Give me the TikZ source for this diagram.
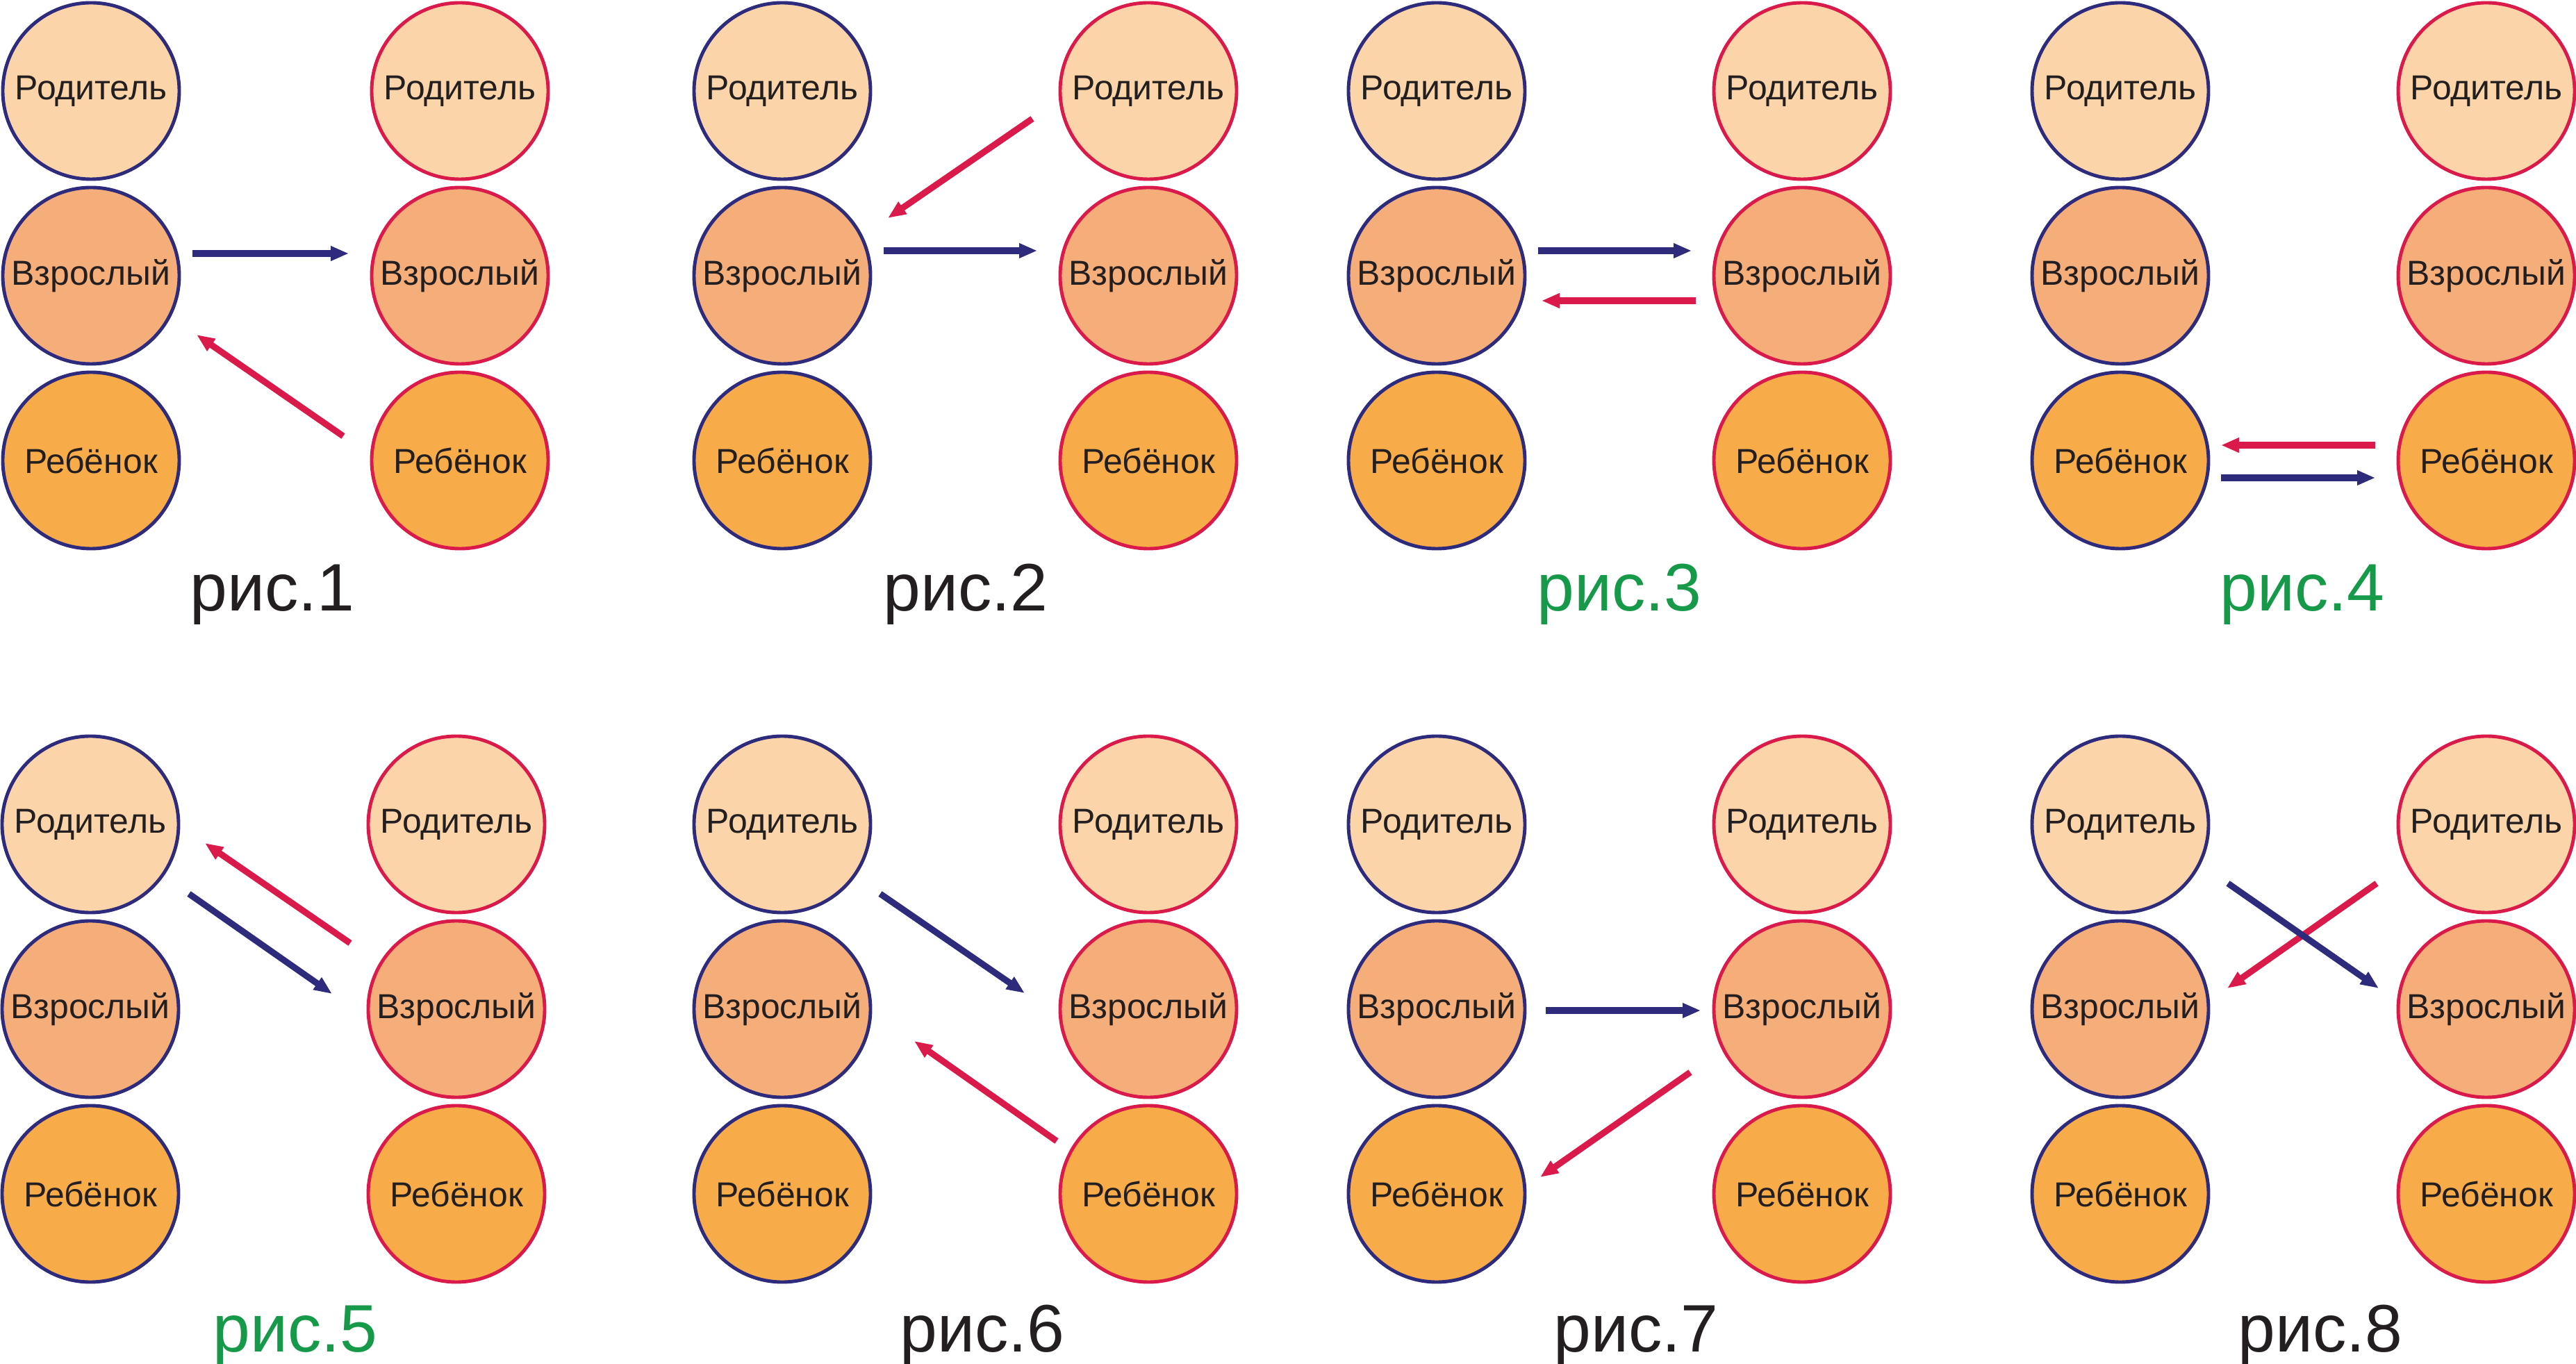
\documentclass[tikz,border=0pt]{standalone}
\usepackage{fontspec}
\setmainfont{Liberation Sans}
\usepackage{tikz}
\usetikzlibrary{arrows.meta}

\definecolor{ego blue}{HTML}{2E2B7D}
\definecolor{ego red}{HTML}{DA1A4B}
\definecolor{par fill}{HTML}{FBD5A9}
\definecolor{adl fill}{HTML}{F5AD79}
\definecolor{chl fill}{HTML}{F7AB49}
\definecolor{fig green}{HTML}{17994A}
\definecolor{ink}{HTML}{231F20}

\tikzset{
  egostate/.style={circle,minimum size=2.54cm,inner sep=0pt,outer sep=0pt,
    line width=1.4pt,text=ink,font=\fontsize{14.2}{16}\selectfont},
  lstate/.style={egostate,draw=ego blue},
  rstate/.style={egostate,draw=ego red},
  figlabel/.style={anchor=base,inner sep=0pt,text=ink,font=\fontsize{27.5}{30}\selectfont},
  barr/.style={draw=ego blue,line width=2.6pt,-{Triangle[length=0.26cm,width=0.2cm]}},
  rarr/.style={draw=ego red,line width=2.6pt,-{Triangle[length=0.26cm,width=0.2cm]}}
}

\begin{document}
\begin{tikzpicture}
  \useasboundingbox (0,0) rectangle (37.08,-19.64);

  % three ego states per column, two columns per figure
  \foreach \p/\lx/\rx/\y in {1/1.31/6.62/0,2/11.26/16.53/0,3/20.68/25.94/0,4/30.52/35.79/0,
                             5/1.30/6.57/-10.56,6/11.26/16.53/-10.56,7/20.68/25.94/-10.56,8/30.52/35.79/-10.56}
  {
    \node [lstate,fill=par fill] (l\p1) at (\lx,\y-1.31) {Родитель};
    \node [lstate,fill=adl fill] (l\p2) at (\lx,\y-3.97) {Взрослый};
    \node [lstate,fill=chl fill] (l\p3) at (\lx,\y-6.63) {Ребёнок};
    \node [rstate,fill=par fill] (r\p1) at (\rx,\y-1.31) {Родитель};
    \node [rstate,fill=adl fill] (r\p2) at (\rx,\y-3.97) {Взрослый};
    \node [rstate,fill=chl fill] (r\p3) at (\rx,\y-6.63) {Ребёнок};
  }

  \node [figlabel] (c1) at (3.92,-8.80) {рис.1};
  \node [figlabel] (c2) at (13.90,-8.80) {рис.2};
  \node [figlabel,text=fig green] (c3) at (23.31,-8.80) {рис.3};
  \node [figlabel,text=fig green] (c4) at (33.14,-8.80) {рис.4};
  \node [figlabel,text=fig green] (c5) at (4.25,-19.46) {рис.5};
  \node [figlabel] (c6) at (14.14,-19.46) {рис.6};
  \node [figlabel] (c7) at (23.55,-19.46) {рис.7};
  \node [figlabel] (c8) at (33.40,-19.46) {рис.8};

  % transactions
  \draw [barr] ([shift={(1.46,0.32)}]l12.center) -- ([shift={(-1.60,0.32)}]r12.center);
  \draw [rarr] ([shift={(-1.68,0.35)}]r13.center) -- ([shift={(1.52,-0.85)}]l12.center);

  \draw [rarr] ([shift={(-1.67,-0.40)}]r21.center) -- ([shift={(1.52,0.83)}]l22.center);
  \draw [barr] ([shift={(1.46,0.36)}]l22.center) -- ([shift={(-1.60,0.36)}]r22.center);

  \draw [barr] ([shift={(1.46,0.36)}]l32.center) -- ([shift={(-1.59,0.36)}]r32.center);
  \draw [rarr] ([shift={(-1.53,-0.36)}]r32.center) -- ([shift={(1.51,-0.36)}]l32.center);

  \draw [rarr] ([shift={(-1.60,0.22)}]r43.center) -- ([shift={(1.45,0.22)}]l43.center);
  \draw [barr] ([shift={(1.45,-0.25)}]l43.center) -- ([shift={(-1.60,-0.25)}]r43.center);

  \draw [rarr] ([shift={(-1.53,0.95)}]r52.center) -- ([shift={(1.65,-0.27)}]l51.center);
  \draw [barr] ([shift={(1.42,-1.00)}]l51.center) -- ([shift={(-1.79,0.22)}]r52.center);

  \draw [barr] ([shift={(1.41,-1.00)}]l61.center) -- ([shift={(-1.78,0.23)}]r62.center);
  \draw [rarr] ([shift={(-1.32,0.76)}]r63.center) -- ([shift={(1.90,-0.46)}]l62.center);

  \draw [barr] ([shift={(1.57,-0.02)}]l72.center) -- ([shift={(-1.46,-0.02)}]r72.center);
  \draw [rarr] ([shift={(-1.61,-0.91)}]r72.center) -- ([shift={(1.49,0.24)}]l73.center);

  \draw [rarr] ([shift={(-1.58,-0.85)}]r81.center) -- ([shift={(1.54,0.30)}]l82.center);
  \draw [barr] ([shift={(1.55,-0.85)}]l81.center) -- ([shift={(-1.55,0.30)}]r82.center);

\end{tikzpicture}
\end{document}
